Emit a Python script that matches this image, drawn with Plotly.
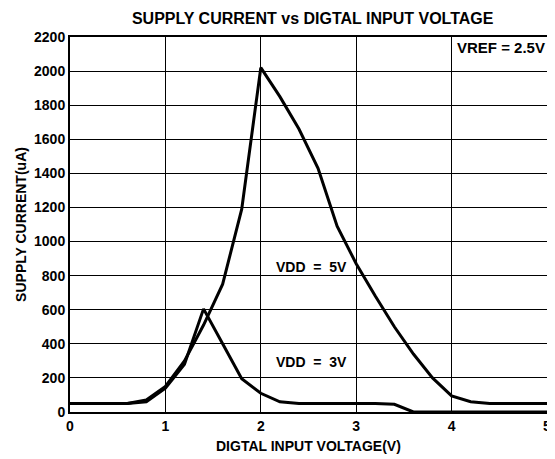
import plotly.graph_objects as go

x_v = [0, 0.2, 0.4, 0.6, 0.8, 1.0, 1.2, 1.4, 1.6, 1.8, 2.0, 2.2, 2.4, 2.6, 2.8, 3.0, 3.2, 3.4, 3.6, 3.8, 4.0, 4.2, 4.4, 4.6, 4.8, 5.0]
vdd5 = [50, 50, 50, 50, 70, 150, 300, 510, 750, 1190, 2020, 1850, 1660, 1430, 1090, 870, 680, 500, 340, 200, 95, 60, 50, 50, 50, 50]
vdd3 = [50, 50, 50, 50, 60, 140, 280, 605, 400, 195, 110, 60, 50, 50, 50, 50, 50, 45, 0, 0, 0, 0, 0, 0, 0, 0]

x_ticks = [0, 1, 2, 3, 4, 5]
y_ticks = list(range(0, 2201, 200))

FONT = "Liberation Sans, Arial, sans-serif"

fig = go.Figure()
fig.add_trace(go.Scatter(x=x_v, y=vdd5, mode="lines", line=dict(color="black", width=3), name="VDD = 5V", cliponaxis=False))
fig.add_trace(go.Scatter(x=x_v, y=vdd3, mode="lines", line=dict(color="black", width=3), name="VDD = 3V", cliponaxis=False))

ann_font = dict(family=FONT, size=14, color="black")
fig.add_annotation(x=2.53, y=850, text="<b>VDD  =  5V</b>", showarrow=False, font=ann_font)
fig.add_annotation(x=2.53, y=293, text="<b>VDD  =  3V</b>", showarrow=False, font=ann_font)
fig.add_annotation(x=4.52, y=2140, text="<b>VREF = 2.5V</b>", showarrow=False,
                   font=dict(family=FONT, size=15, color="black"))
# x-axis title placed as an annotation for exact vertical placement
fig.add_annotation(x=0.5, xref="paper", y=0, yref="paper", yshift=-34, yanchor="middle",
                   text="<b>DIGTAL INPUT VOLTAGE(V)</b>", showarrow=False,
                   font=dict(family=FONT, size=14, color="black"))

# page body has an 8px margin, so the figure is sized/offset to compensate
fig.update_layout(
    width=547, height=451,
    margin=dict(l=62, r=8, t=29, b=47, autoexpand=False),
    paper_bgcolor="white", plot_bgcolor="white",
    showlegend=False,
    font=dict(family=FONT, size=14, color="black"),
    title=dict(text="<b>SUPPLY CURRENT vs DIGTAL INPUT VOLTAGE</b>", x=0.557, xanchor="center",
               y=1 - 10 / 451, yanchor="middle",
               font=dict(family=FONT, size=16, color="black")),
)
fig.update_xaxes(
    range=[0, 5], tickvals=x_ticks, ticktext=[f"<b>{v}</b>" for v in x_ticks],
    showgrid=True, gridcolor="black", gridwidth=1,
    showline=True, linecolor="black", linewidth=2, mirror="ticks",
    ticks="inside", ticklen=3, tickcolor="black", zeroline=False, automargin=False,
    ticklabeloverflow="allow",
    tickfont=dict(family=FONT, size=14),
)
fig.update_yaxes(
    range=[0, 2200], tickvals=y_ticks, ticktext=[f"<b>{v}</b>" for v in y_ticks],
    showgrid=True, gridcolor="black", gridwidth=1,
    showline=True, linecolor="black", linewidth=2, mirror="ticks",
    ticks="inside", ticklen=3, tickcolor="black", zeroline=False, automargin=False,
    ticklabeloverflow="allow",
    title=dict(text="<b>SUPPLY CURRENT(uA)</b>", standoff=4, font=dict(family=FONT, size=14)),
    tickfont=dict(family=FONT, size=14),
)

fig.write_html("out.html")
